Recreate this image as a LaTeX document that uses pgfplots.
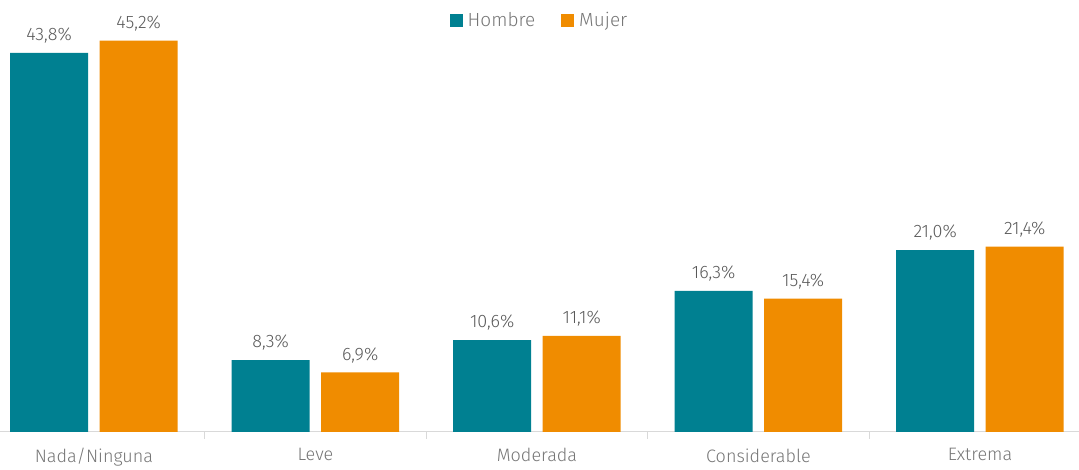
\documentclass[border=0pt]{standalone}
\usepackage{pgfplots}
\pgfplotsset{compat=1.18}
\usepackage{fontspec}
\setmainfont{Fira Sans}[UprightFont=* Light]
\definecolor{hombre}{RGB}{0,128,145}
\definecolor{mujer}{RGB}{240,140,0}
\definecolor{axisgray}{RGB}{217,217,217}
\definecolor{lbl}{RGB}{89,89,89}
\definecolor{tlbl}{RGB}{118,118,118}
\begin{document}
\begin{tikzpicture}
\begin{axis}[
  scale only axis,
  width=1079pt, height=432pt,
  xmin=-0.424, xmax=4.447,
  ymin=0, ymax=49.9,
  axis y line=none,
  axis x line*=bottom,
  x axis line style={axisgray, line width=1pt, -},
  xtick={0,1,2,3,4},
  xticklabels={Nada/Ninguna,Leve,Moderada,Considerable,Extrema},
  major tick length=0pt,
  xticklabel style={font=\fontsize{18}{21}\selectfont, text=tlbl, yshift=-13pt},
  extra x ticks={0.5,1.5,2.5,3.5},
  extra x tick labels={},
  extra x tick style={major tick length=7pt, tick align=outside,
    major tick style={axisgray, line width=1pt}},
  /pgf/number format/assume math mode=true,
  ybar, bar width=0.352,
  enlargelimits=false,
  clip=false,
  nodes near coords={\pgfmathprintnumber[fixed,fixed zerofill,precision=1,use comma]{\pgfplotspointmeta}\%},
  nodes near coords style={font=\fontsize{18}{21}\selectfont, text=lbl, yshift=6pt},
  legend style={at={(0.5,0.995)}, anchor=north, draw=none, fill=none, legend columns=2,
    font=\fontsize{19}{22}\selectfont, text=tlbl, yshift=-6pt,
    /tikz/every even column/.append style={column sep=24pt},
    /tikz/every odd column/.append style={column sep=3pt}},
  legend image code/.code={\fill[#1] (0pt,-6.5pt) rectangle (13pt,6.5pt);},
]
\addplot[fill=hombre, draw=none, bar shift=-0.202] coordinates {(0,43.8) (1,8.3) (2,10.6) (3,16.3) (4,21.0)};
\addlegendentry{Hombre}
\addplot[fill=mujer, draw=none, bar shift=0.202] coordinates {(0,45.2) (1,6.9) (2,11.1) (3,15.4) (4,21.4)};
\addlegendentry{Mujer}
\end{axis}
\pgfresetboundingbox
\path (0,-38pt) rectangle (1079pt,432pt);
\end{tikzpicture}
\end{document}
